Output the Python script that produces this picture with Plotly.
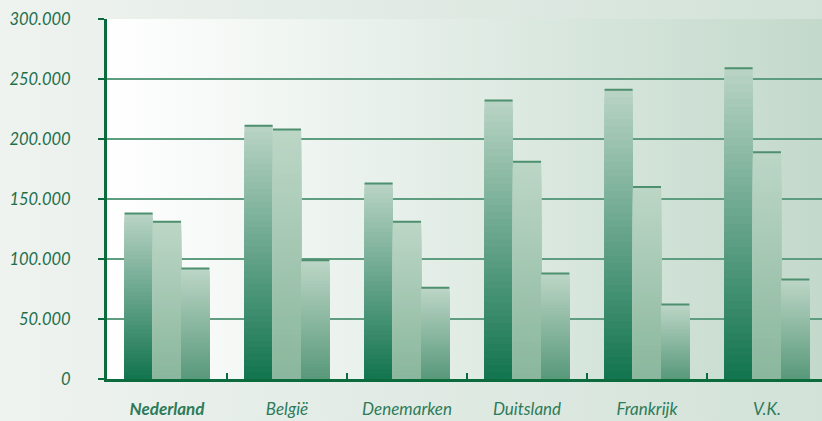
import base64
import plotly.graph_objects as go

# ---- data ----
categories = ["Nederland", "België", "Denemarken", "Duitsland", "Frankrijk", "V.K."]
tick_labels = ["<b>Nederland</b>", "België", "Denemarken", "Duitsland", "Frankrijk", "V.K."]
series_a = [138000, 211000, 163000, 232000, 241000, 259000]
series_b = [131000, 208000, 131000, 181000, 160000, 189000]
series_c = [92000, 99000, 76000, 88000, 62000, 83000]
y_ticks = [0, 50000, 100000, 150000, 200000, 250000, 300000]

# ---- styling ----
W, H = 822, 421
ML, MR, MT, MB = 107, 0, 19, 42
DARK = "#0b6b3c"
FONT = "Lato"
series = [
    (series_a, "#127450", "#bad4c5"),
    (series_b, "#89b79c", "#bdd6c7"),
    (series_c, "#58997a", "#bdd6c7"),
]
N_STEPS = 40


def hex2rgb(h):
    h = h.lstrip("#")
    return tuple(int(h[i:i + 2], 16) for i in (0, 2, 4))


def mix(c0, c1, t):
    a, b = hex2rgb(c0), hex2rgb(c1)
    return "rgb(%d,%d,%d)" % tuple(round(a[i] + (b[i] - a[i]) * t) for i in range(3))


def grad_uri(c0, c1):
    svg = ('<svg xmlns="http://www.w3.org/2000/svg" width="200" height="100" '
           'preserveAspectRatio="none"><defs><linearGradient id="g" x1="0" y1="0" '
           'x2="1" y2="0"><stop offset="0" stop-color="%s"/><stop offset="1" '
           'stop-color="%s"/></linearGradient></defs><rect width="200" height="100" '
           'fill="url(#g)"/></svg>') % (c0, c1)
    return "data:image/svg+xml;base64," + base64.b64encode(svg.encode()).decode()


fig = go.Figure()
for s, (vals, c_bottom, c_top) in enumerate(series):
    for k in range(N_STEPS, 0, -1):
        frac = k / N_STEPS
        color = mix(c_bottom, c_top, (k - 0.5) / N_STEPS)
        kw = {}
        if k == N_STEPS:
            kw["error_y"] = dict(type="data", array=[0] * len(vals), visible=True,
                                 width=14, thickness=2, color="#4d8f6e")
        fig.add_trace(go.Bar(
            x=tick_labels, y=[v * frac for v in vals], offsetgroup=str(s),
            marker=dict(color=color, line=dict(width=0)),
            hoverinfo="skip" if k != N_STEPS else None,
            showlegend=False, **kw))

pw = W - ML - MR
ph = H - MT - MB
fig.add_layout_image(dict(source=grad_uri("#eff3f0", "#d2e2d8"), xref="paper", yref="paper",
                          x=-ML / pw, y=1 + MT / ph, sizex=W / pw, sizey=H / ph,
                          xanchor="left", yanchor="top", sizing="stretch", layer="below"))
fig.add_layout_image(dict(source=grad_uri("#ffffff", "#c3d9cb"), xref="paper", yref="paper",
                          x=0, y=1, sizex=1, sizey=1, xanchor="left", yanchor="top",
                          sizing="stretch", layer="below"))

fig.update_layout(
    width=W, height=H, margin=dict(l=ML, r=MR, t=MT, b=MB, autoexpand=False),
    barmode="group", bargap=0.29, bargroupgap=0,
    paper_bgcolor="#e9f0eb", plot_bgcolor="rgba(0,0,0,0)",
    separators=",.", showlegend=False,
    font=dict(family=FONT, color="#1d6f4b"),
)
fig.update_xaxes(
    type="category", range=[-0.5, -0.5 + pw / 120], automargin=False,
    tickson="boundaries", ticks="inside", ticklen=6, tickwidth=2, tickcolor=DARK,
    showline=True, linecolor=DARK, linewidth=3, showgrid=False,
    tickfont=dict(family=FONT, size=17, style="italic", color="#2e7b59"),
    ticklabelstandoff=13, fixedrange=True,
)
fig.update_yaxes(
    range=[0, 300000], tickvals=y_ticks, tickformat=",", automargin=False,
    ticks="outside", ticklen=6, tickwidth=2, tickcolor=DARK,
    showline=True, linecolor=DARK, linewidth=3,
    showgrid=True, gridcolor="#5f9d80", gridwidth=1.5, zeroline=False,
    tickfont=dict(family=FONT, size=16.5, style="italic", color="#1d6f4b"),
    ticklabelstandoff=24, fixedrange=True,
)
fig.write_html("out.html", config={"displayModeBar": False},
               post_script="document.body.style.margin='0';document.body.style.overflow='hidden';")
